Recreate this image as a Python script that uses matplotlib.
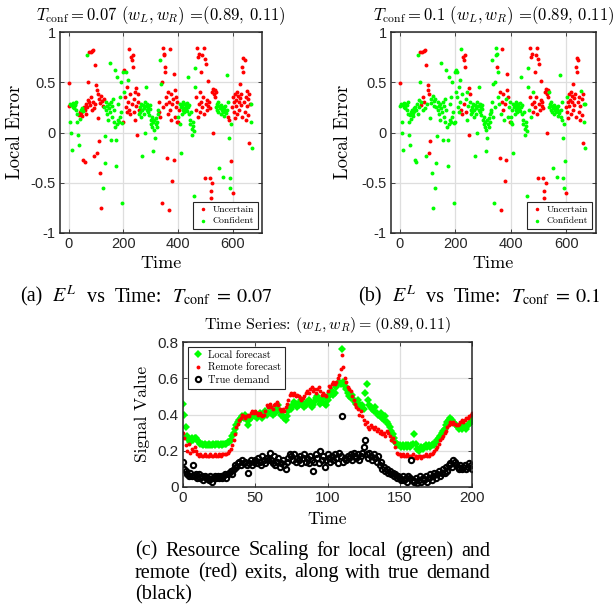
import numpy as np
import matplotlib
matplotlib.use("Agg")
import matplotlib.pyplot as plt
from matplotlib.ticker import FuncFormatter

# ---------------- data: panels (a) and (b), local error, every 2nd step
err_time = np.arange(0, 671, 2)
local_err = [
    # t 0-28
    0.49, 0.26, 0.28, 0.10, 0.00, 0.27, -0.17, 0.25, 0.29, 0.26, 0.24, 0.28, 0.27, 0.22, 0.30,
    # t 30-58
    0.18, 0.10, -0.02, -0.12, 0.17, 0.20, 0.13, 0.22, 0.19, 0.16, 0.24, 0.21, -0.27, 0.25, -0.29,
    # t 60-128
    0.22, 0.28, 0.18, 0.77, 0.25, 0.32, 0.50, 0.80, 0.30, 0.27,
    0.80, 0.35, 0.22, 0.81, 0.30, 0.82, 0.24, -0.23, 0.67, 0.28,
    0.47, 0.42, -0.20, 0.38, 0.14, -0.08, 0.33, 0.29, -0.40, 0.36,
    -0.75, 0.31, 0.26, -0.55, 0.33,
    # t 130-198
    0.25, -0.30, -0.03, 0.22, 0.30, 0.18, 0.26, 0.12, 0.28, 0.24,
    0.69, 0.20, -0.07, 0.30, 0.26, 0.15, 0.33, 0.10, 0.22, 0.62,
    0.05, -0.07, -0.33, 0.08, 0.55, 0.12, 0.28, 0.10, 0.35, 0.15,
    0.50, 0.20, 0.09, -0.70, 0.60,
    # t 200-258
    0.10, 0.40, 0.62, 0.35, 0.60, 0.25, 0.45, 0.20, 0.52, 0.30,
    0.83, 0.22, 0.38, 0.18, 0.75, 0.28, 0.72, 0.77, 0.65, 0.20,
    0.33, 0.12, 0.40, 0.26, 0.44, -0.02, 0.30, 0.38, 0.22, 0.18,
    # t 260-328
    0.25, 0.20, 0.28, 0.15, 0.22, -0.23, 0.27, 0.24, 0.18, 0.30,
    0.00, 0.26, 0.45, 0.22, 0.28, 0.20, 0.25, 0.17, 0.27, 0.23,
    0.12, 0.08, 0.15, 0.05, 0.10, -0.18, 0.02, 0.12, -0.05, 0.08,
    0.14, 0.05, 0.10, 0.18, 0.22,
    # t 330-398
    0.20, 0.30, 0.72, 0.15, 0.48, -0.70, 0.50, 0.25, 0.84, 0.77,
    0.78, 0.65, 0.60, 0.35, 0.28, -0.25, 0.40, 0.18, -0.77, 0.30,
    0.83, 0.22, 0.38, 0.12, 0.28, -0.48, 0.33, -0.27, 0.58, 0.42,
    0.15, 0.35, 0.25, 0.10, 0.30,
    # t 400-458
    0.10, 0.15, 0.22, 0.08, 0.28, -0.20, 0.25, 0.18, 0.27, 0.22,
    0.30, 0.24, 0.20, 0.28, 0.26, 0.23, 0.29, 0.21, 0.55, 0.25,
    0.18, 0.27, 0.12, 0.08, 0.20, 0.03, -0.02, 0.06, 0.10, 0.01,
    # t 460-538
    -0.63, 0.64, 0.45, 0.22, 0.35, 0.84, 0.15, 0.75, 0.78, 0.28,
    0.40, 0.20, 0.30, 0.60, 0.25, 0.77, 0.35, 0.84, 0.18, 0.73,
    -0.45, 0.68, 0.28, 0.22, 0.32, 0.51, 0.26, 0.30, -0.45, 0.24,
    -0.58, -0.65, 0.40, -0.50, 0.43, 0.00, 0.38, 0.42, 0.35, 0.40,
    # t 540-578
    0.25, 0.28, 0.22, 0.30, 0.20, 0.26, -0.35, 0.24, 0.18, 0.27,
    0.22, 0.25, 0.20, -0.44, 0.23, 0.16, 0.26, 0.21, 0.19, 0.57,
    # t 580-670
    0.22, 0.15, 0.30, 0.12, -0.05, -0.45, -0.55, 0.08, -0.28, 0.25,
    -0.60, 0.35, 0.20, 0.30, 0.14, 0.38, 0.26, 0.32, 0.18, 0.40,
    0.36, 0.30, 0.22, 0.48, 0.34, 0.27, 0.38, 0.15, 0.65, 0.60,
    0.74, 0.30, 0.72, 0.20, 0.35, 0.12, 0.26, 0.41, 0.17, 0.33,
    -0.10, 0.38, 0.28, 0.10, 0.28, -0.15,
]
# u = uncertain, c = confident (same order as local_err)
flags_a = [
    "uuccc ccccc ccccc",
    "ccccu uccuu ccuuu",
    "uuucu uuuuu uuuuu uuuuu uuuuu uuuuu uuucu",
    "ccccc ccccc ccccc ccccc ccccc ccccc ccccc",
    "ucuuc uuucu uuuuu uuuuu uuuuu uuuuc",
    "ccccc ccccc ccccc ccccc ccccc ccccc ccccc",
    "uucuc uuuuu uuuuu uuuuu uuuuu uuuuu uuuuu",
    "ucucc ccccc ccccc ccccc ccccc ccccc",
    "cccuu uuuuu uuuuu uuuuu uuuuu uuuuu uuuuu uuuuu",
    "ccccc ccccc ccccc ccccc",
    "cucuc cccuu uuuuu uuuuu uuuuu uuuuu uuuuu uuuuu uuucc c",
]
flags_b = [
    "ucccc ccccc ccccc",
    "ccccc ccccc ccccc",
    "ccccc ccucu uucuu uccuc uuuuc ucccc ccccc",
    "ccccc ccccc ccccc ccccc ccccc ccccc ccccc",
    "ccccc ccccc cucuu uuuuu ccccu ucucc",
    "ccccc ccccc ccccc ccccc ccccc ccccc ccccc",
    "ccccc ccccc cuccc uucuu uuucu ucuuu cucuc",
    "ccccc ccccc ccccc ccccc ccccc ccccc",
    "ccccu ucuuu cuuuu uuuuu uuuuu uuuuu uuuuu uuuuc",
    "ccccc ccccc ccccc ccccc",
    "ccccc ccccu ucuuu uuuuu uuuuu uuuuu uuuuu uucuu uuccc c",
]

# ---------------- data: panel (c), time series t = 0..200
ts_time = np.arange(0, 201)
local_fc = [
    0.46, 0.40, 0.33, 0.28, 0.26, 0.25, 0.27, 0.26, 0.27, 0.27,
    0.26, 0.25, 0.24, 0.24, 0.23, 0.24, 0.23, 0.23, 0.24, 0.23,
    0.23, 0.24, 0.23, 0.24, 0.24, 0.23, 0.24, 0.23, 0.24, 0.24,
    0.24, 0.25, 0.25, 0.26, 0.28, 0.30, 0.32, 0.34, 0.36, 0.37,
    0.38, 0.39, 0.38, 0.40, 0.37, 0.34, 0.37, 0.38, 0.39, 0.40,
    0.39, 0.38, 0.40, 0.41, 0.39, 0.38, 0.40, 0.42, 0.40, 0.41,
    0.44, 0.41, 0.40, 0.42, 0.41, 0.43, 0.45, 0.42, 0.40, 0.39,
    0.38, 0.37, 0.39, 0.42, 0.44, 0.43, 0.45, 0.47, 0.46, 0.44,
    0.45, 0.47, 0.48, 0.46, 0.44, 0.45, 0.47, 0.48, 0.46, 0.44,
    0.45, 0.47, 0.49, 0.50, 0.48, 0.46, 0.47, 0.49, 0.46, 0.45,
    0.48, 0.50, 0.52, 0.53, 0.51, 0.52, 0.55, 0.57, 0.58, 0.57,
    0.76, 0.58, 0.56, 0.54, 0.52, 0.50, 0.49, 0.51, 0.48, 0.47,
    0.46, 0.48, 0.46, 0.44, 0.45, 0.43, 0.52, 0.57, 0.48, 0.45,
    0.44, 0.43, 0.42, 0.44, 0.41, 0.40, 0.39, 0.41, 0.38, 0.37,
    0.39, 0.36, 0.35, 0.33, 0.31, 0.29, 0.27, 0.25, 0.24, 0.23,
    0.23, 0.22, 0.23, 0.22, 0.23, 0.22, 0.23, 0.22, 0.23, 0.24,
    0.29, 0.24, 0.21, 0.20, 0.21, 0.22, 0.21, 0.22, 0.23, 0.22,
    0.23, 0.22, 0.23, 0.24, 0.23, 0.25, 0.26, 0.27, 0.28, 0.30,
    0.31, 0.32, 0.34, 0.36, 0.37, 0.38, 0.37, 0.36, 0.35, 0.34,
    0.33, 0.32, 0.33, 0.32, 0.34, 0.33, 0.32, 0.34, 0.35, 0.36,
    0.37,
]
remote_fc = [
    0.30, 0.27, 0.23, 0.20, 0.24, 0.19, 0.21, 0.20, 0.22, 0.20,
    0.18, 0.17, 0.18, 0.17, 0.17, 0.18, 0.17, 0.17, 0.17, 0.18,
    0.17, 0.17, 0.18, 0.17, 0.17, 0.18, 0.17, 0.18, 0.18, 0.18,
    0.18, 0.19, 0.20, 0.21, 0.23, 0.26, 0.29, 0.33, 0.35, 0.37,
    0.38, 0.40, 0.39, 0.38, 0.39, 0.40, 0.39, 0.41, 0.42, 0.41,
    0.42, 0.41, 0.40, 0.41, 0.40, 0.39, 0.40, 0.42, 0.45, 0.44,
    0.46, 0.44, 0.43, 0.45, 0.46, 0.47, 0.45, 0.43, 0.42, 0.43,
    0.42, 0.44, 0.46, 0.48, 0.51, 0.52, 0.51, 0.52, 0.50, 0.51,
    0.50, 0.49, 0.48, 0.49, 0.50, 0.52, 0.53, 0.52, 0.54, 0.55,
    0.53, 0.54, 0.52, 0.54, 0.55, 0.53, 0.51, 0.52, 0.51, 0.50,
    0.53, 0.56, 0.55, 0.57, 0.58, 0.57, 0.58, 0.60, 0.62, 0.65,
    0.73, 0.66, 0.60, 0.58, 0.55, 0.54, 0.53, 0.50, 0.48, 0.46,
    0.44, 0.43, 0.40, 0.42, 0.39, 0.37, 0.35, 0.36, 0.33, 0.32,
    0.34, 0.33, 0.32, 0.33, 0.31, 0.32, 0.30, 0.31, 0.29, 0.30,
    0.28, 0.31, 0.30, 0.28, 0.26, 0.27, 0.25, 0.22, 0.19, 0.18,
    0.18, 0.17, 0.18, 0.17, 0.17, 0.18, 0.17, 0.17, 0.17, 0.18,
    0.16, 0.17, 0.16, 0.17, 0.17, 0.16, 0.17, 0.17, 0.18, 0.17,
    0.17, 0.18, 0.18, 0.19, 0.20, 0.21, 0.22, 0.24, 0.26, 0.27,
    0.28, 0.30, 0.31, 0.33, 0.34, 0.36, 0.35, 0.36, 0.35, 0.34,
    0.34, 0.35, 0.36, 0.37, 0.36, 0.37, 0.38, 0.38, 0.39, 0.40,
    0.41,
]
true_demand = [
    0.14, 0.10, 0.09, 0.07, 0.06, 0.08, 0.06, 0.12, 0.06, 0.07,
    0.05, 0.07, 0.05, 0.06, 0.04, 0.06, 0.05, 0.05, 0.04, 0.06,
    0.03, 0.05, 0.06, 0.05, 0.06, 0.05, 0.06, 0.05, 0.06, 0.07,
    0.05, 0.07, 0.08, 0.09, 0.07, 0.10, 0.12, 0.11, 0.13, 0.14,
    0.12, 0.15, 0.13, 0.14, 0.12, 0.08, 0.13, 0.15, 0.12, 0.14,
    0.15, 0.13, 0.16, 0.14, 0.12, 0.17, 0.15, 0.13, 0.16, 0.15,
    0.19, 0.15, 0.13, 0.17, 0.12, 0.14, 0.16, 0.11, 0.13, 0.15,
    0.12, 0.10, 0.14, 0.16, 0.18, 0.17, 0.15, 0.18, 0.14, 0.16,
    0.15, 0.17, 0.13, 0.16, 0.18, 0.14, 0.16, 0.13, 0.17, 0.15,
    0.09, 0.14, 0.18, 0.16, 0.13, 0.20, 0.15, 0.17, 0.11, 0.15,
    0.18, 0.16, 0.14, 0.17, 0.15, 0.18, 0.16, 0.13, 0.19, 0.17,
    0.39, 0.14, 0.16, 0.15, 0.17, 0.16, 0.18, 0.15, 0.19, 0.17,
    0.16, 0.18, 0.15, 0.17, 0.19, 0.22, 0.26, 0.18, 0.16, 0.19,
    0.17, 0.15, 0.18, 0.16, 0.14, 0.17, 0.12, 0.14, 0.10, 0.11,
    0.09, 0.10, 0.08, 0.09, 0.07, 0.08, 0.06, 0.07, 0.05, 0.06,
    0.05, 0.04, 0.06, 0.04, 0.05, 0.03, 0.06, 0.05, 0.15, 0.04,
    0.03, 0.05, 0.02, 0.04, 0.06, 0.03, 0.05, 0.04, 0.06, 0.03,
    0.05, 0.07, 0.04, 0.06, 0.08, 0.05, 0.07, 0.09, 0.06, 0.08,
    0.10, 0.08, 0.11, 0.09, 0.12, 0.13, 0.11, 0.15, 0.14, 0.12,
    0.11, 0.10, 0.12, 0.10, 0.11, 0.12, 0.10, 0.11, 0.13, 0.12,
    0.10,
]

# ---------------- figure
W, H = 614, 606
plt.rcParams['font.family'] = 'Liberation Sans'
fig = plt.figure(figsize=(W / 100, H / 100), dpi=100)
renderer = fig.canvas.get_renderer()

LBL = 'cmr10'          # LaTeX-looking labels
CAP = 'Liberation Serif'
RED, GREEN = '#ff0000', '#00ff00'
INK = '#262626'


def px_axes(left, top, right, bottom):
    return fig.add_axes([left / W, 1 - bottom / H, (right - left) / W, (bottom - top) / H])


def put(x, y, s, **kw):
    kw.setdefault('ha', 'center')
    kw.setdefault('va', 'center')
    return fig.text(x / W, 1 - y / H, s, **kw)


def spread(tokens, x0, x1, y, size, stretch=True):
    # lay tokens out from x0, stretching the gaps to reach x1
    objs = [put(x0, y, t, ha='left', fontfamily=CAP, math_fontfamily='stix',
                fontsize=size) for t in tokens]
    widths = [o.get_window_extent(renderer).width for o in objs]
    gap = 4.8
    if stretch and len(tokens) > 1:
        gap = max(gap, (x1 - x0 - sum(widths)) / (len(tokens) - 1))
    x = x0
    for o, wd in zip(objs, widths):
        o.set_x(x / W)
        x += wd + gap


def style(ax, xlim, ylim, xticks, yticks, tsize):
    ax.set_xlim(*xlim)
    ax.set_ylim(*ylim)
    ax.set_xticks(xticks)
    ax.set_yticks(yticks)
    fmt = FuncFormatter(lambda v, p: f"{v:g}")
    ax.xaxis.set_major_formatter(fmt)
    ax.yaxis.set_major_formatter(fmt)
    ax.tick_params(direction='in', top=True, right=True, length=3, width=0.6,
                   labelsize=tsize, colors=INK, pad=3)
    ax.grid(True, color='#dedede', lw=0.9)
    ax.set_axisbelow(True)
    for s in ax.spines.values():
        s.set_linewidth(1.1)
        s.set_color(INK)


err = np.array(local_err)
panels = [
    ((60, 32, 262, 233), flags_a, "0.07", 15),
    ((391, 32, 596, 233), flags_b, "0.1", 343),
]
for box, flags, tconf, ylab_x in panels:
    ax = px_axes(*box)
    unc = np.array([f == 'u' for f in "".join(flags).replace(" ", "")])
    ax.scatter(err_time[unc], err[unc], s=8, c=RED, lw=0, label='Uncertain')
    ax.scatter(err_time[~unc], err[~unc], s=8, c=GREEN, lw=0, label='Confident')
    style(ax, (-32, 708), (-1, 1), [0, 200, 400, 600], [-1, -0.5, 0, 0.5, 1], 10.5)
    leg = ax.legend(loc='lower right', prop={'family': LBL, 'size': 7}, fancybox=False,
                    edgecolor=INK, framealpha=1, handletextpad=0.3, handlelength=1.4,
                    borderpad=0.35, labelspacing=0.25, borderaxespad=0.45, markerscale=0.9)
    leg.get_frame().set_linewidth(0.8)
    cx = (box[0] + box[2]) / 2
    put(cx, 16, r"$T_{\mathrm{conf}} = " + tconf + r"\ (w_L, w_R)$ =(0.89, 0.11)",
        fontfamily=LBL, math_fontfamily='cm', fontsize=12)
    put(cx, 263, "Time", fontfamily=LBL, fontsize=13)
    put(ylab_x, 132, "Local Error", fontfamily=LBL, fontsize=13.5, rotation=90)

# panel (c)
axc = px_axes(183, 342, 472, 487)
axc.plot(ts_time, local_fc, 'D', color=GREEN, ms=4.3, mew=0, label='Local forecast')
axc.plot(ts_time, remote_fc, 'o', color=RED, ms=2.8, mew=0, label='Remote forecast')
axc.plot(ts_time, true_demand, 'o', mfc='none', mec='black', ms=3.8, mew=1.5,
         label='True demand')
style(axc, (0, 200), (0, 0.8), [0, 50, 100, 150, 200], [0, 0.2, 0.4, 0.6, 0.8], 11)
leg = axc.legend(loc='upper left', prop={'family': LBL, 'size': 7.5}, fancybox=False,
                 edgecolor=INK, framealpha=1, handletextpad=0.4, handlelength=1.2,
                 borderpad=0.35, labelspacing=0.3, borderaxespad=0.45)
leg.get_frame().set_linewidth(0.8)
put(327.5, 325, r"Time Series: $(w_L, w_R) = (0.89, 0.11)$", fontfamily=LBL,
    math_fontfamily='cm', fontsize=11.5)
put(327.5, 519, "Time", fontfamily=LBL, fontsize=12.5)
put(142, 414, "Signal Value", fontfamily=LBL, fontsize=12.5, rotation=90)

# captions
CAP_SIZE = 14.5
spread(["(a)", r"$E^L$", "vs", "Time:", r"$T_{\mathrm{conf}}\;=\;0.07$"],
       20, 273, 297, CAP_SIZE)
spread(["(b)", r"$E^L$", "vs", "Time:", r"$T_{\mathrm{conf}}\;=\;0.1$"],
       358, 601, 297, CAP_SIZE)

cap_lines = ["(c) Resource Scaling for local (green) and",
             "remote (red) exits, along with true demand",
             "(black)"]
for k, line in enumerate(cap_lines):
    spread(line.split(), 135, 490, 551 + 22 * k, CAP_SIZE,
           stretch=k < len(cap_lines) - 1)

fig.savefig("out.png", dpi=100)
